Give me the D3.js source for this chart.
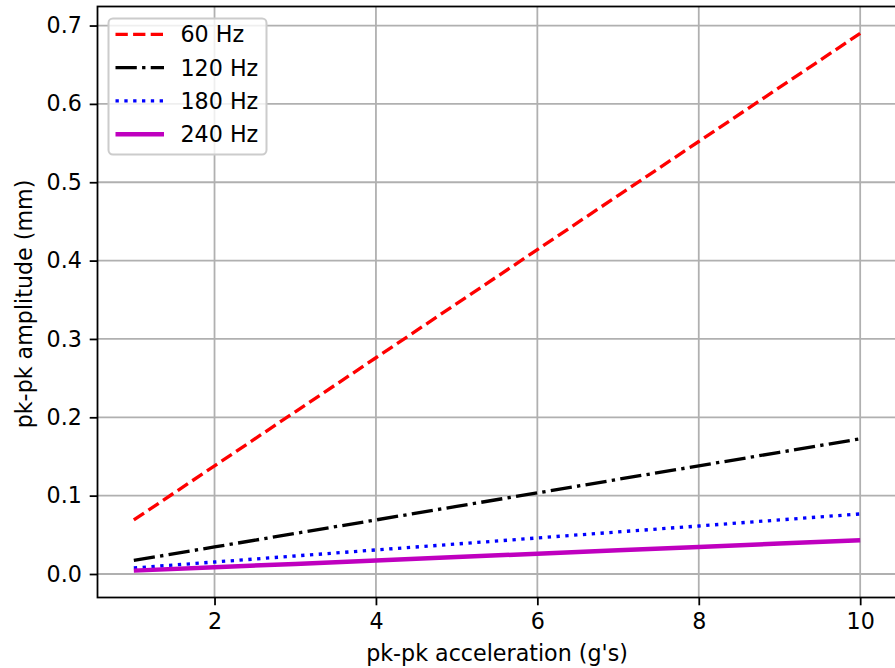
<!DOCTYPE html>
<html>
<head>
<meta charset="utf-8">
<script src="https://cdn.jsdelivr.net/npm/d3@7"></script>
<style>
  body { margin: 0; background: #fff; }
  svg text { font-family: "DejaVu Sans", sans-serif; fill: #000; }
</style>
</head>
<body>
<svg id="chart" width="895" height="668"></svg>
<script>
// pk-pk acceleration in g's
const accel = [1, 2, 3, 4, 5, 6, 7, 8, 9, 10];
// pk-pk amplitude (mm)
const amp60 = [0.069, 0.138, 0.207, 0.276, 0.345, 0.414, 0.483, 0.552, 0.621, 0.690];
const amp120 = [0.0173, 0.0345, 0.0518, 0.069, 0.0863, 0.1035, 0.1208, 0.138, 0.1553, 0.1725];
const amp180 = [0.0077, 0.0153, 0.023, 0.0307, 0.0383, 0.046, 0.0537, 0.0613, 0.069, 0.0767];
const amp240 = [0.0043, 0.0086, 0.0129, 0.0173, 0.0216, 0.0259, 0.0302, 0.0345, 0.0388, 0.0431];
const seriesNames = ["60 Hz", "120 Hz", "180 Hz", "240 Hz"];
const xTicks = [2, 4, 6, 8, 10];
const yTicks = [0.0, 0.1, 0.2, 0.3, 0.4, 0.5, 0.6, 0.7];

const series = [
    { name: seriesNames[0], values: amp60, color: "#ff0000", dash: "12.3,5.3", width: 3.33 },
    { name: seriesNames[1], values: amp120, color: "#000000", dash: "21.3,5.3,3.33,5.3", width: 3.33 },
    { name: seriesNames[2], values: amp180, color: "#0000ff", dash: "3.33,5.5", width: 3.33 },
    { name: seriesNames[3], values: amp240, color: "#bf00bf", dash: null, width: 4.5 }
];

const fontSize = "22.2px";
const plotL = 97.5, plotR = 896.5, plotT = 6.5, plotB = 597.5;
const svg = d3.select("#chart");

const x = d3.scaleLinear().domain([0.55, 10.45]).range([plotL, plotR]);
const y = d3.scaleLinear().domain([-0.0300, 0.7243]).range([plotB, plotT]);

// grid
svg.append("g").selectAll("line").data(xTicks).enter().append("line")
    .attr("x1", d => x(d)).attr("x2", d => x(d))
    .attr("y1", plotT).attr("y2", plotB)
    .attr("stroke", "#b0b0b0").attr("stroke-width", 1.78);
svg.append("g").selectAll("line").data(yTicks).enter().append("line")
    .attr("x1", plotL).attr("x2", plotR)
    .attr("y1", d => y(d)).attr("y2", d => y(d))
    .attr("stroke", "#b0b0b0").attr("stroke-width", 1.78);

// lines
const line = d3.line().x((d, i) => x(accel[i])).y(d => y(d));
series.forEach(s => {
    svg.append("path")
        .datum(s.values)
        .attr("d", line)
        .attr("fill", "none")
        .attr("stroke", s.color)
        .attr("stroke-width", s.width)
        .attr("stroke-dasharray", s.dash);
});

// axes
const xAxis = d3.axisBottom(x).tickValues(xTicks).tickFormat(d3.format("d"))
    .tickSize(7.8).tickPadding(7.8);
const yAxis = d3.axisLeft(y).tickValues(yTicks).tickFormat(d3.format(".1f"))
    .tickSize(7.8).tickPadding(7.8);

const gx = svg.append("g").attr("transform", `translate(0,${plotB})`).call(xAxis);
const gy = svg.append("g").attr("transform", `translate(${plotL},0)`).call(yAxis);
[gx, gy].forEach(g => {
    g.select(".domain").remove();
    g.selectAll(".tick line").attr("stroke", "#000").attr("stroke-width", 1.78);
    g.selectAll(".tick text").attr("font-size", fontSize).attr("font-family", "DejaVu Sans").attr("fill", "#000");
});

// spines
svg.append("rect")
    .attr("x", plotL).attr("y", plotT)
    .attr("width", plotR - plotL).attr("height", plotB - plotT)
    .attr("fill", "none").attr("stroke", "#000").attr("stroke-width", 1.78);

// axis labels
svg.append("text")
    .attr("x", (plotL + plotR) / 2).attr("y", 661)
    .attr("text-anchor", "middle").attr("font-size", fontSize)
    .text("pk-pk acceleration (g's)");
svg.append("text")
    .attr("transform", `translate(31.5,${(plotT + plotB) / 2 + 2}) rotate(-90)`)
    .attr("text-anchor", "middle").attr("font-size", fontSize)
    .text("pk-pk amplitude (mm)");

// legend
const legend = svg.append("g");
legend.append("rect")
    .attr("x", 108.5).attr("y", 18.5).attr("width", 158).attr("height", 136)
    .attr("rx", 4.4).attr("fill", "#fff").attr("fill-opacity", 0.8)
    .attr("stroke", "#cccccc").attr("stroke-width", 2);
series.forEach((s, i) => {
    const ly = 34.3 + i * 33.3;
    legend.append("line")
        .attr("x1", 115.5).attr("x2", 164).attr("y1", ly).attr("y2", ly)
        .attr("stroke", s.color).attr("stroke-width", s.width)
        .attr("stroke-dasharray", s.dash);
    legend.append("text")
        .attr("x", 180.5).attr("y", ly + 8)
        .attr("font-size", fontSize)
        .text(s.name);
});
</script>
</body>
</html>
